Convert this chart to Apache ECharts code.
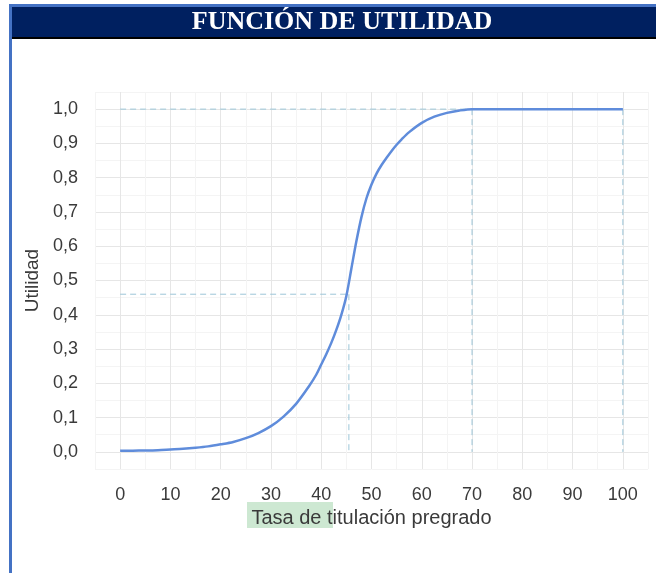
<!DOCTYPE html>
<html>
<head>
<meta charset="utf-8">
<script src="https://cdn.jsdelivr.net/npm/echarts@6/dist/echarts.min.js"></script>
<style>
  html, body { margin: 0; padding: 0; background: #fff; }
  #chart { width: 656px; height: 573px; }
</style>
</head>
<body>
<div id="chart"></div>
<script>
// curve
const tasa = [0, 2.5, 5, 7.5, 10, 12.5, 15, 17.5, 20, 22.5, 25, 27.5, 30, 32.5, 35, 37.5, 39, 40, 41, 42, 43, 44, 45, 46, 47, 48, 49, 50, 51, 52, 53, 54, 55, 56, 57.5, 60, 62.5, 65, 67.5, 70, 80, 90, 100]
const utilidad = [0.003, 0.0035, 0.004, 0.005, 0.007, 0.009, 0.012, 0.016, 0.022, 0.029, 0.04, 0.055, 0.075, 0.103, 0.14, 0.19, 0.225, 0.255, 0.285, 0.318, 0.356, 0.4, 0.455, 0.535, 0.615, 0.685, 0.74, 0.78, 0.812, 0.837, 0.858, 0.878, 0.896, 0.912, 0.933, 0.96, 0.978, 0.989, 0.996, 1, 1, 1, 1]

// dashed guide lines
const guideTop = [[0, 1], [100, 1]]
const guide70 = [[70, 1], [70, 0]]
const guide100 = [[100, 1], [100, 0]]
const guideMidH = [[0, 0.46], [45.5, 0.46]]
const guideMidV = [[45.5, 0.46], [45.5, 0]]

const title = 'FUNCIÓN DE UTILIDAD'
const xName = 'Tasa de titulación pregrado'
const yName = 'Utilidad'

const chart = echarts.init(document.getElementById('chart'), null, { renderer: 'canvas' })

const labelFont = { fontFamily: 'Liberation Sans', fontSize: 18, color: '#3a3a3a' }
const gridColors = ['#f4f4f4', '#e6e6e6']

function guide(data) {
  return {
    type: 'line',
    data: data,
    symbol: 'none',
    silent: true,
    z: 1,
    lineStyle: { color: '#9cc6d8', width: 1, type: [6, 4] },
  }
}

chart.setOption({
  animation: false,
  grid: { left: 95, right: 8, top: 92, bottom: 104 },
  xAxis: {
    type: 'value',
    min: -5,
    max: 105,
    interval: 5,
    axisLine: { show: false },
    axisTick: { show: false },
    axisLabel: Object.assign({
      margin: 17,
      formatter: v => {
        const n = Math.round(v)
        return (n >= 0 && n <= 100 && n % 10 === 0) ? String(n) : ''
      },
    }, labelFont),
    splitLine: { show: true, lineStyle: { color: gridColors, width: 1 } },
    name: xName,
    nameLocation: 'middle',
    nameGap: 35,
    nameTextStyle: { fontFamily: 'Liberation Sans', fontSize: 20, color: '#3a3a3a' },
  },
  yAxis: {
    type: 'value',
    min: -0.05,
    max: 1.05,
    interval: 0.05,
    axisLine: { show: false },
    axisTick: { show: false },
    axisLabel: Object.assign({
      margin: 17,
      formatter: v => {
        const n = Math.round(v * 100)
        return (n >= 0 && n <= 100 && n % 10 === 0) ? (n / 100).toFixed(1).replace('.', ',') : ''
      },
    }, labelFont),
    splitLine: { show: true, lineStyle: { color: gridColors, width: 1 } },
    name: yName,
    nameLocation: 'middle',
    nameGap: 50,
    nameRotate: 90,
    nameTextStyle: { fontFamily: 'Liberation Sans', fontSize: 19, color: '#3a3a3a' },
  },
  series: [
    guide(guideTop),
    guide(guide70),
    guide(guide100),
    guide(guideMidH),
    guide(guideMidV),
    {
      type: 'line',
      data: tasa.map((x, i) => [x, utilidad[i]]),
      smooth: 0.3,
      symbol: 'none',
      z: 3,
      lineStyle: { color: '#5f8cdb', width: 2.5 },
    },
  ],
  graphic: [
    // header band
    { type: 'rect', shape: { x: 9, y: 4, width: 647, height: 3 }, style: { fill: '#4472c4' }, z: 10 },
    { type: 'rect', shape: { x: 9, y: 7, width: 647, height: 30 }, style: { fill: '#002060' }, z: 10 },
    { type: 'rect', shape: { x: 9, y: 37, width: 647, height: 2 }, style: { fill: '#000' }, z: 10 },
    { type: 'rect', shape: { x: 9, y: 4, width: 3, height: 569 }, style: { fill: '#4472c4' }, z: 11 },
    {
      type: 'text', x: 342, y: 22, z: 12,
      style: {
        text: title, fill: '#fff', align: 'center', verticalAlign: 'middle',
        font: 'bold 26px "Liberation Serif", serif',
      },
    },
    // green highlight behind the x axis name
    { type: 'rect', shape: { x: 247, y: 502, width: 86, height: 26 }, style: { fill: '#cde8d2' }, z: -10 },
  ],
})
</script>
</body>
</html>
